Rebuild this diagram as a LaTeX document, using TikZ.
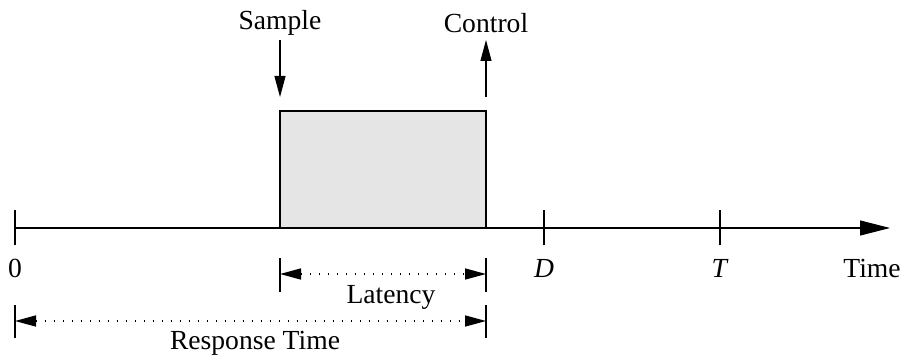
\documentclass[tikz,border=0pt]{standalone}
\usepackage{fontspec}
\setmainfont{Liberation Serif}
\usetikzlibrary{positioning,arrows.meta}

\tikzset{
    axisline/.style={line width=0.55pt, -{Triangle[length=15pt,width=7.5pt]}},
    spanline/.style={line width=0.75pt, dash pattern=on 0.6pt off 3.9pt,
        {Triangle[length=10.5pt,width=5.5pt]}-{Triangle[length=10.5pt,width=5.5pt]}},
    sigline/.style={line width=0.55pt, -{Triangle[length=10.5pt,width=5.5pt]}},
    tick/.style={line width=0.55pt},
    lbl/.style={font=\fontsize{13.8}{16}\selectfont, inner sep=0pt}
}

\begin{document}
\begin{tikzpicture}[x=0.5pt, y=0.5pt]
    \useasboundingbox (0,0) rectangle (904,354);

    % Time axis
    \coordinate (origin) at (15,126);
    \coordinate (axisend) at (890,126);
    \draw[axisline] (origin) -- (axisend);
    \node[lbl] (time) at (872,86) {Time};

    % Task execution box
    \coordinate (start) at (280,126);
    \coordinate (finish) at (486,243);
    \draw[line width=0.55pt, fill=gray!20] (start) rectangle (finish);

    % Ticks on the axis
    \foreach \x/\name/\txt in {15/zero/0, 544/dl/\textit{D}, 720/per/\textit{T}} {
        \draw[tick] (\x,109) -- (\x,144);
        \node[lbl] (\name) at (\x,86) {\txt};
    }

    % Sample and control signals
    \node[lbl] (sample) at (280,331) {Sample};
    \node[lbl] (control) at (486,331) {Control};
    \coordinate (sampletip) at (280,257);
    \coordinate (controlbase) at (486,257);
    \draw[sigline] (280,314) -- (sampletip);
    \draw[sigline] (controlbase) -- (486,314);

    % Latency
    \draw[tick] (280,62) -- (280,96);
    \draw[tick] (486,62) -- (486,96);
    \coordinate (latl) at (280,80);
    \coordinate (latr) at (486,80);
    \draw[spanline] (latl) -- (latr);
    \node[lbl] (latency) at (391,57) {Latency};

    % Response time
    \draw[tick] (15,16) -- (15,49);
    \draw[tick] (486,16) -- (486,49);
    \coordinate (resl) at (15,33);
    \coordinate (resr) at (486,33);
    \draw[spanline] (resl) -- (resr);
    \node[lbl] (response) at (255,11) {Response Time};
\end{tikzpicture}
\end{document}
